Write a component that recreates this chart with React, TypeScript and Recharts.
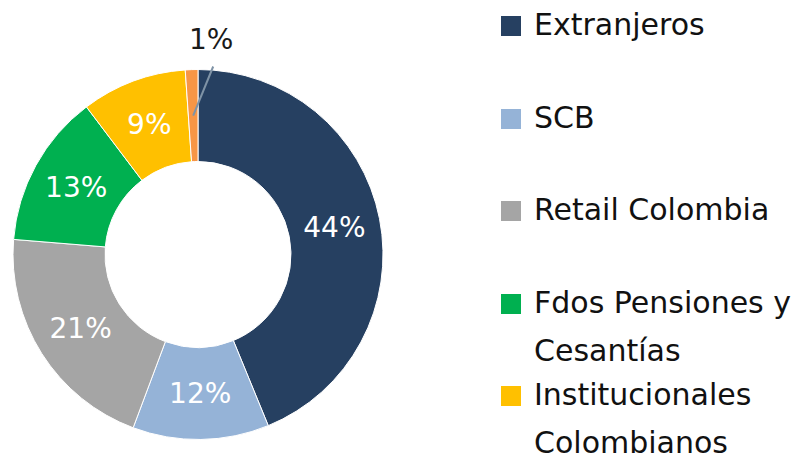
import React from "react";
import { PieChart, Pie, Cell, Legend } from "recharts";

const categories = [
  "Extranjeros",
  "SCB",
  "Retail Colombia",
  "Fdos Pensiones y Cesantías",
  "Institucionales Colombianos",
  "Otros",
];
const shares = [43.8, 11.9, 20.6, 13.4, 9.2, 1.1];
const colors = ["#264061", "#95B3D7", "#A5A5A5", "#00B050", "#FFC000", "#F79646"];

const data = categories.map((name, i) => ({ name, value: shares[i] }));

const FONT = "'DejaVu Sans', sans-serif";
const RADIAN = Math.PI / 180;

const renderLabel = (props: any) => {
  const { cx, cy, midAngle, innerRadius, outerRadius, index, value } = props;
  const r = (innerRadius + outerRadius) / 2;
  const x = cx + r * Math.cos(-midAngle * RADIAN);
  const y = cy + r * Math.sin(-midAngle * RADIAN);
  const txt = `${Math.round(value)}%`;
  if (index === data.length - 1) {
    const ex = x + 20;
    const ey = cy - outerRadius - 3;
    return (
      <g>
        <line x1={x} y1={y} x2={ex} y2={ey} stroke="#7F93A6" strokeWidth={2} />
        <text
          x={ex - 2}
          y={ey - 27}
          textAnchor="middle"
          dominantBaseline="central"
          fill="#1a1a1a"
          fontSize={28}
          fontFamily={FONT}
        >
          {txt}
        </text>
      </g>
    );
  }
  return (
    <text
      x={x}
      y={y}
      textAnchor="middle"
      dominantBaseline="central"
      fill="#ffffff"
      fontSize={28}
      fontFamily={FONT}
    >
      {txt}
    </text>
  );
};

const LegendContent = () => (
  <div style={{ position: "relative", width: 311, height: 453 }}>
    {categories.map((name, i) => (
      <div
        key={name}
        style={{
          position: "absolute",
          left: 0,
          top: 1 + i * 92.5,
          width: 311,
          display: "flex",
          alignItems: "flex-start",
        }}
      >
        <div
          style={{
            width: 20,
            height: 20,
            marginTop: 15,
            marginLeft: 1,
            background: colors[i],
            flex: "0 0 auto",
          }}
        />
        <div
          style={{
            marginLeft: 13,
            width: 277,
            fontFamily: FONT,
            fontSize: 30,
            lineHeight: "48px",
            color: "#111111",
          }}
        >
          {name}
        </div>
      </div>
    ))}
  </div>
);

export default function App() {
  return (
    <div
      style={{
        position: "absolute",
        left: 0,
        top: 0,
        width: 811,
        height: 453,
        overflow: "hidden",
        background: "#ffffff",
      }}
    >
      <PieChart width={811} height={453} margin={{ top: 0, right: 0, bottom: 0, left: 0 }}>
        <Pie
          data={data}
          dataKey="value"
          nameKey="name"
          cx={198}
          cy={254.5}
          innerRadius={93}
          outerRadius={185}
          startAngle={90}
          endAngle={-270}
          stroke="#ffffff"
          strokeWidth={1}
          label={renderLabel}
          labelLine={false}
          isAnimationActive={false}
        >
          {data.map((d, i) => (
            <Cell key={d.name} fill={colors[i]} />
          ))}
        </Pie>
        <Legend
          content={<LegendContent />}
          wrapperStyle={{ position: "absolute", left: 500, top: 0, width: 311, height: 453 }}
        />
      </PieChart>
    </div>
  );
}
